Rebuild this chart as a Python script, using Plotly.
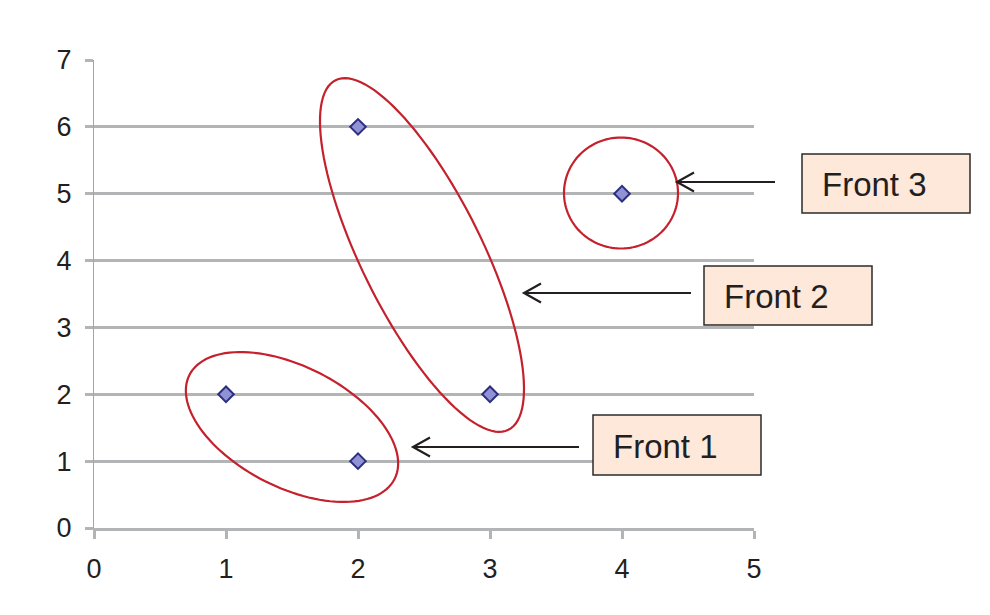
import math
import plotly.graph_objects as go

# Solution points (objective 1, objective 2)
x_vals = [1, 2, 2, 3, 4]
y_vals = [2, 1, 6, 2, 5]

x_ticks = [0, 1, 2, 3, 4, 5]
y_ticks = [0, 1, 2, 3, 4, 5, 6, 7]

front_labels = ["Front 1", "Front 2", "Front 3"]

# Figure geometry (pixels)
FIG_W, FIG_H = 990, 615
L, R, T, B = 94, 236, 60, 87
PW = FIG_W - L - R
PH = FIG_H - T - B


def to_paper(px, py):
    return (px - L) / PW, (FIG_H - B - py) / PH


def ellipse_path(cx, cy, a, b, ang_deg, n=120):
    th = math.radians(ang_deg)
    pts = []
    for i in range(n + 1):
        t = 2 * math.pi * i / n
        px = cx + a * math.cos(th) * math.cos(t) - b * math.sin(th) * math.sin(t)
        py = cy + a * math.sin(th) * math.cos(t) + b * math.cos(th) * math.sin(t)
        pts.append(to_paper(px, py))
    return "M" + " L".join(f"{u:.5f},{v:.5f}" for u, v in pts) + " Z"


fig = go.Figure()
fig.add_trace(go.Scatter(
    x=x_vals, y=y_vals, mode="markers",
    marker=dict(symbol="diamond", size=12, color="#9191d6",
                line=dict(color="#2b2f80", width=2)),
    showlegend=False, hoverinfo="x+y",
))

shapes = []
red = "#c4212c"
# Front groupings (pixel centre, semi-axes, rotation)
for cx, cy, a, b, ang in [(292, 427, 115, 60.5, 26.9),
                          (422, 255, 195, 60.5, 63.7),
                          (621, 193, 57, 55.5, 0)]:
    shapes.append(dict(type="path", xref="paper", yref="paper",
                       path=ellipse_path(cx, cy, a, b, ang),
                       line=dict(color=red, width=2.2)))

# Label boxes and arrows
boxes = [  # (left, top, right, bottom, text x, arrow tip x, arrow tail x, arrow y)
    (593, 415, 761, 475, 611, 413, 579, 447),
    (704, 266, 872, 325, 722, 524, 691, 293),
    (802, 154, 970, 213, 820, 677, 775, 182),
]
annotations = []
for (x0, y0, x1, y1, tx, tip, tail, ay), label in zip(boxes, front_labels):
    p0 = to_paper(x0, y1)
    p1 = to_paper(x1, y0)
    shapes.append(dict(type="rect", xref="paper", yref="paper",
                       x0=p0[0], y0=p0[1], x1=p1[0], y1=p1[1],
                       fillcolor="#fde8da", line=dict(color="#2b2b2b", width=1.5)))
    annotations.append(dict(xref="paper", yref="paper",
                            x=to_paper(tx, 0)[0], y=to_paper(0, (y0 + y1) / 2 + 1)[1],
                            xanchor="left", yanchor="middle", showarrow=False,
                            text=label,
                            font=dict(family="Arial, Liberation Sans", size=33, color="#231f20")))
    a0 = to_paper(tail, ay)
    a1 = to_paper(tip, ay)
    shapes.append(dict(type="line", xref="paper", yref="paper",
                       x0=a0[0], y0=a0[1], x1=a1[0], y1=a1[1],
                       line=dict(color="#231f20", width=2.2)))
    h1 = to_paper(tip + 17, ay - 9.5)
    h2 = to_paper(tip + 17, ay + 9.5)
    shapes.append(dict(type="path", xref="paper", yref="paper",
                       path=f"M{h1[0]:.5f},{h1[1]:.5f} L{a1[0]:.5f},{a1[1]:.5f} L{h2[0]:.5f},{h2[1]:.5f}",
                       line=dict(color="#231f20", width=2.2)))

grid = "#b3b4b6"
fig.update_layout(
    width=FIG_W, height=FIG_H,
    margin=dict(l=L, r=R, t=T, b=B, pad=0),
    paper_bgcolor="white", plot_bgcolor="white",
    font=dict(family="Arial, Liberation Sans", size=27, color="#231f20"),
    xaxis=dict(range=[0, 5], tickvals=x_ticks, showgrid=False, zeroline=False,
               showline=True, linecolor=grid, linewidth=2.5,
               ticks="outside", ticklen=8, tickwidth=2.5, tickcolor=grid,
               ticklabelstandoff=7, fixedrange=True),
    yaxis=dict(range=[0, 7], tickvals=y_ticks, showgrid=True, gridcolor=grid,
               gridwidth=2.5, zeroline=False,
               showline=True, linecolor="#a5a5a7", linewidth=1,
               ticks="outside", ticklen=8, tickwidth=2.5, tickcolor=grid,
               ticklabelstandoff=8, fixedrange=True),
    shapes=shapes, annotations=annotations,
)

fig.write_html("out.html")
